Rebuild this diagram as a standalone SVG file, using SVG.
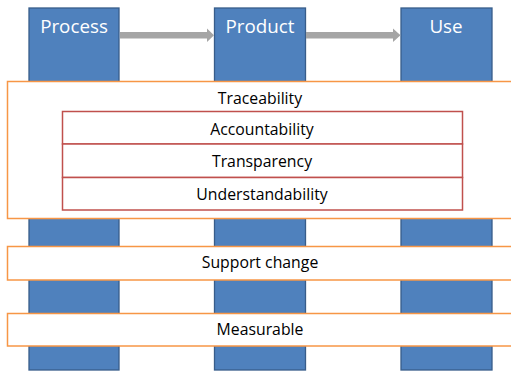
<svg xmlns="http://www.w3.org/2000/svg" width="511" height="373" viewBox="0 0 511 373">
<defs>
<style>
.col{fill:#4f81bd;stroke:#385d8a;stroke-width:1.3}
.band{fill:#ffffff;stroke:#f79646;stroke-width:1.5}
.inner{fill:#ffffff;stroke:#c0504d;stroke-width:1.5}
.hd{font-family:"Open Sans","Liberation Sans",Arial,sans-serif;font-size:18.8px;fill:#ffffff;text-anchor:middle}
.lb{font-family:"Open Sans","Liberation Sans",Arial,sans-serif;font-size:15.8px;fill:#000000;text-anchor:middle}
.arr{fill:#a5a5a5}
</style>
</defs>
<rect width="511" height="373" fill="#ffffff"/>
<g id="process"><rect class="col" x="29" y="8" width="90" height="362"/><text class="hd" x="74" y="33">Process</text></g>
<g id="product"><rect class="col" x="214.5" y="8" width="91" height="362"/><text class="hd" x="260" y="33">Product</text></g>
<g id="use"><rect class="col" x="401" y="8" width="91" height="362"/><text class="hd" x="446" y="33">Use</text></g>
<g id="connectors">
<polygon class="arr" points="120,32 207,32 207,28.5 214,35.3 207,42 207,38.6 120,38.6"/>
<polygon class="arr" points="306,32 393,32 393,28.5 400.5,35.3 393,42 393,38.6 306,38.6"/>
</g>
<g id="traceability"><rect class="band" x="7.5" y="81.5" width="515" height="137"/><text class="lb" x="260" y="104">Traceability</text></g>
<g id="accountability"><rect class="inner" x="62.5" y="111.5" width="400" height="32.5"/><text class="lb" x="262" y="135">Accountability</text></g>
<g id="transparency"><rect class="inner" x="62.5" y="144" width="400" height="33.5"/><text class="lb" x="262" y="167">Transparency</text></g>
<g id="understandability"><rect class="inner" x="62.5" y="177.5" width="400" height="32.5"/><text class="lb" x="262" y="200">Understandability</text></g>
<g id="support"><rect class="band" x="7.5" y="246.5" width="515" height="33.5"/><text class="lb" x="260" y="268">Support change</text></g>
<g id="measurable"><rect class="band" x="7.5" y="313.5" width="515" height="32.5"/><text class="lb" x="260" y="335">Measurable</text></g>
</svg>
